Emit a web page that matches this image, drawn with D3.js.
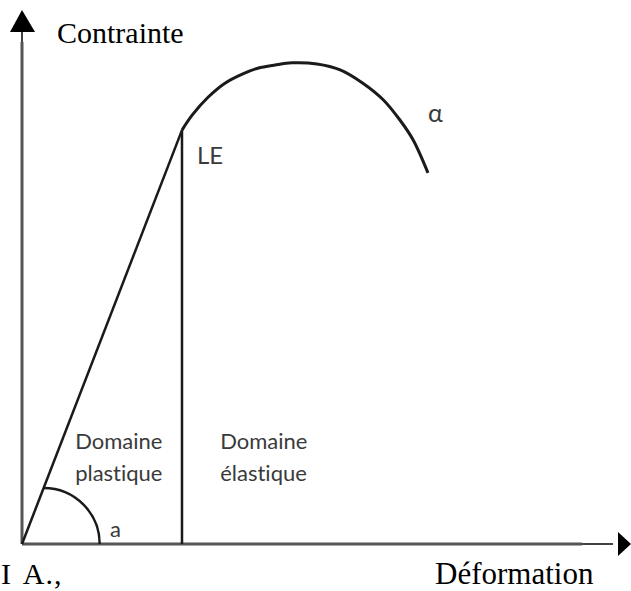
<!DOCTYPE html>
<html>
<head>
<meta charset="utf-8">
<script src="https://cdnjs.cloudflare.com/ajax/libs/d3/7.8.5/d3.min.js"></script>
<style>
  body { margin: 0; background: #fff; }
  .serif { font-family: "Liberation Serif", "DejaVu Serif", serif; fill: #000; }
  .sans { font-family: "Lato", "Open Sans", sans-serif; font-weight: 400; fill: #3a3a3a;
          font-variant-ligatures: none; font-feature-settings: "liga" 0, "dlig" 0; }
</style>
</head>
<body>
<svg id="chart" width="631" height="591"></svg>
<script>
// stress-strain curve, values in arbitrary units (0-100 on each axis)
var strain = [0, 26.8];
var stress = [0, 77.5];

// plastic part, from LE up over the top and down to alpha
var curveStrain = [26.8, 28.5, 31.2, 34.0, 36.9, 39.5, 42.4, 45.2, 49.4, 53.3, 57.1, 60.5, 63.3, 65.5, 68.0];
var curveStress = [77.5, 80.3, 83.7, 86.3, 88.0, 89.1, 89.7, 90.1, 89.9, 88.8, 86.3, 83.2, 79.4, 75.7, 69.5];

var axisTitles = { x: 'Déformation', y: 'Contrainte' };
var domainLabels = [
	{ lines: ['Domaine', 'plastique'], x: 8.9 },
	{ lines: ['Domaine', 'élastique'], x: 33.2 }
];

var svg = d3.select('#chart');

var xScale = d3.scaleLinear().domain([0, 100]).range([22, 619]);
var yScale = d3.scaleLinear().domain([0, 100]).range([544, 10]);

var ink = '#1a1a1a';

//=======================
// axes with arrow heads
//=======================
// scanned grey part, then thin black part up to the arrows
svg.append('line')
	.attr('x1', xScale(0)).attr('y1', yScale(0))
	.attr('x2', xScale(0)).attr('y2', yScale(94))
	.attr('stroke', '#555').attr('stroke-width', 3);
svg.append('line')
	.attr('x1', xScale(0)).attr('y1', yScale(94))
	.attr('x2', xScale(0)).attr('y2', yScale(97))
	.attr('stroke', '#000').attr('stroke-width', 1.5);

svg.append('line')
	.attr('x1', xScale(0)).attr('y1', yScale(0))
	.attr('x2', xScale(93.8)).attr('y2', yScale(0))
	.attr('stroke', '#555').attr('stroke-width', 3);
svg.append('line')
	.attr('x1', xScale(93.8)).attr('y1', yScale(0))
	.attr('x2', xScale(99)).attr('y2', yScale(0))
	.attr('stroke', '#000').attr('stroke-width', 1.5);

var yTip = [xScale(0), yScale(100)];
svg.append('path')
	.attr('d', 'M' + yTip[0] + ',' + yTip[1] +
		'L' + (yTip[0] - 12) + ',' + (yTip[1] + 22) +
		'L' + (yTip[0] + 13) + ',' + (yTip[1] + 22) + 'Z')
	.attr('fill', '#000');

var xTip = [631, yScale(0)];
svg.append('path')
	.attr('d', 'M' + xTip[0] + ',' + xTip[1] +
		'L' + (xTip[0] - 13) + ',' + (xTip[1] - 12) +
		'L' + (xTip[0] - 13) + ',' + (xTip[1] + 12) + 'Z')
	.attr('fill', '#000');

//=======================
// curve
//=======================
var elastic = strain.map(function (d, i) { return [d, stress[i]]; });
var plastic = curveStrain.map(function (d, i) { return [d, curveStress[i]]; });

var line = d3.line()
	.x(function (d) { return xScale(d[0]); })
	.y(function (d) { return yScale(d[1]); });

svg.append('path')
	.attr('d', line(elastic))
	.attr('fill', 'none').attr('stroke', ink).attr('stroke-width', 2.5);

svg.append('path')
	.attr('d', line.curve(d3.curveCatmullRom.alpha(0.5))(plastic))
	.attr('fill', 'none').attr('stroke', ink).attr('stroke-width', 3);

// vertical line under LE
svg.append('line')
	.attr('x1', xScale(strain[1])).attr('y1', yScale(0))
	.attr('x2', xScale(strain[1])).attr('y2', yScale(stress[1]))
	.attr('stroke', ink).attr('stroke-width', 2.5);

// angle marker near origin
var r = 56;
var slope = (yScale(0) - yScale(stress[1])) / (xScale(strain[1]) - xScale(0));
var cx = xScale(0) + r / slope;
svg.append('path')
	.attr('d', d3.arc()({ innerRadius: r, outerRadius: r, startAngle: 0, endAngle: Math.PI / 2 }))
	.attr('transform', 'translate(' + cx + ',' + yScale(0) + ')')
	.attr('fill', 'none').attr('stroke', ink).attr('stroke-width', 2.5);

//=======================
// labels
//=======================
svg.append('text').attr('class', 'serif')
	.attr('x', 57).attr('y', 43).style('font-size', '30px')
	.text(axisTitles.y);

svg.append('text').attr('class', 'serif')
	.attr('x', 435).attr('y', 584).style('font-size', '31px')
	.text(axisTitles.x);

svg.append('text').attr('class', 'serif')
	.attr('x', 1).attr('y', 584).style('font-size', '30px')
	.style('word-spacing', '4px').style('letter-spacing', '1px')
	.text('I A.,');

svg.append('text').attr('class', 'sans')
	.attr('x', xScale(strain[1]) + 15).attr('y', 164).style('font-size', '24px')
	.text('LE');

svg.append('text').attr('class', 'sans')
	.attr('x', 428).attr('y', 122).style('font-size', '25px')
	.text('α');

svg.append('text').attr('class', 'sans')
	.attr('x', 110).attr('y', 537).style('font-size', '22px')
	.text('a');

domainLabels.forEach(function (lab) {
	lab.lines.forEach(function (t, i) {
		svg.append('text').attr('class', 'sans')
			.attr('x', xScale(lab.x)).attr('y', 449 + i * 32)
			.style('font-size', '22px')
			.text(t);
	});
});
</script>
</body>
</html>
